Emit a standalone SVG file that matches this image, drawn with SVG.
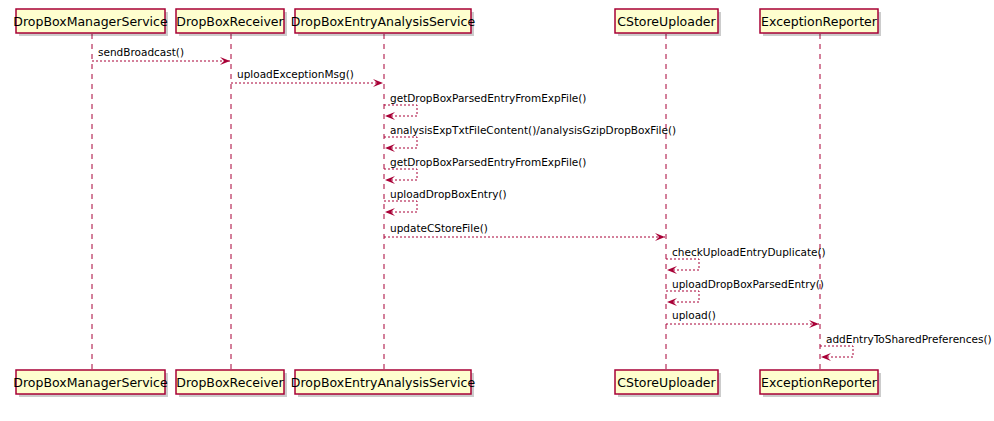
<svg xmlns="http://www.w3.org/2000/svg" width="994" height="421" viewBox="0 0 994 421">
<defs>
<style>
.box{fill:#FEFECE;stroke:#A80036;stroke-width:1.5}
.sh{fill:#000;opacity:0.2}
.pt{font-family:"DejaVu Sans",sans-serif;font-size:12.5px;fill:#000}
.life{stroke:#A80036;stroke-width:1;stroke-dasharray:5,5}
.msg{stroke:#A80036;stroke-width:1;stroke-dasharray:2,2;fill:none}
.mt{font-family:"DejaVu Sans",sans-serif;font-size:10.5px;fill:#000}
</style>
<marker id="ah" viewBox="0 0 10 10" refX="10" refY="5" markerWidth="10" markerHeight="10" orient="auto" markerUnits="userSpaceOnUse">
<path d="M0,1 L10,5 L0,9 L4,5 Z" fill="#A80036"/>
</marker>
</defs>
<rect width="994" height="421" fill="#fff"/>
<g id="lifelines">
<line class="life" x1="92" y1="34" x2="92" y2="370"/>
<line class="life" x1="231" y1="34" x2="231" y2="370"/>
<line class="life" x1="384" y1="34" x2="384" y2="370"/>
<line class="life" x1="666" y1="34" x2="666" y2="370"/>
<line class="life" x1="820" y1="34" x2="820" y2="370"/>
</g>
<g id="p1"><rect class="sh" x="19" y="12" width="149" height="24"/><rect class="box" x="16" y="9" width="149" height="24"/><text class="pt" x="90.5" y="26" text-anchor="middle">DropBoxManagerService</text>
<rect class="sh" x="19" y="373" width="149" height="24"/><rect class="box" x="16" y="370" width="149" height="24"/><text class="pt" x="90.5" y="387" text-anchor="middle">DropBoxManagerService</text></g>
<g id="p2"><rect class="sh" x="179" y="12" width="108" height="24"/><rect class="box" x="176" y="9" width="108" height="24"/><text class="pt" x="230" y="26" text-anchor="middle">DropBoxReceiver</text>
<rect class="sh" x="179" y="373" width="108" height="24"/><rect class="box" x="176" y="370" width="108" height="24"/><text class="pt" x="230" y="387" text-anchor="middle">DropBoxReceiver</text></g>
<g id="p3"><rect class="sh" x="298" y="12" width="176" height="24"/><rect class="box" x="295" y="9" width="176" height="24"/><text class="pt" x="383" y="26" text-anchor="middle">DropBoxEntryAnalysisService</text>
<rect class="sh" x="298" y="373" width="176" height="24"/><rect class="box" x="295" y="370" width="176" height="24"/><text class="pt" x="383" y="387" text-anchor="middle">DropBoxEntryAnalysisService</text></g>
<g id="p4"><rect class="sh" x="618" y="12" width="103" height="24"/><rect class="box" x="615" y="9" width="103" height="24"/><text class="pt" x="666.5" y="26" text-anchor="middle">CStoreUploader</text>
<rect class="sh" x="618" y="373" width="103" height="24"/><rect class="box" x="615" y="370" width="103" height="24"/><text class="pt" x="666.5" y="387" text-anchor="middle">CStoreUploader</text></g>
<g id="p5"><rect class="sh" x="763" y="12" width="118" height="24"/><rect class="box" x="760" y="9" width="118" height="24"/><text class="pt" x="819" y="26" text-anchor="middle">ExceptionReporter</text>
<rect class="sh" x="763" y="373" width="118" height="24"/><rect class="box" x="760" y="370" width="118" height="24"/><text class="pt" x="819" y="387" text-anchor="middle">ExceptionReporter</text></g>
<g id="connectors">
<line class="msg" x1="92" y1="61" x2="230" y2="61" marker-end="url(#ah)"/>
<text class="mt" x="98" y="56">sendBroadcast()</text>
<line class="msg" x1="231" y1="83" x2="383" y2="83" marker-end="url(#ah)"/>
<text class="mt" x="237" y="78">uploadExceptionMsg()</text>
<path class="msg" d="M384,105 H417 V116 H385" marker-end="url(#ah)"/>
<text class="mt" x="390" y="102">getDropBoxParsedEntryFromExpFile()</text>
<path class="msg" d="M384,137 H417 V148 H385" marker-end="url(#ah)"/>
<text class="mt" x="390" y="134">analysisExpTxtFileContent()/analysisGzipDropBoxFile()</text>
<path class="msg" d="M384,169 H417 V180 H385" marker-end="url(#ah)"/>
<text class="mt" x="390" y="166">getDropBoxParsedEntryFromExpFile()</text>
<path class="msg" d="M384,201 H417 V212 H385" marker-end="url(#ah)"/>
<text class="mt" x="390" y="198">uploadDropBoxEntry()</text>
<line class="msg" x1="384" y1="237" x2="665" y2="237" marker-end="url(#ah)"/>
<text class="mt" x="390" y="232">updateCStoreFile()</text>
<path class="msg" d="M666,259 H699 V270 H667" marker-end="url(#ah)"/>
<text class="mt" x="672" y="256">checkUploadEntryDuplicate()</text>
<path class="msg" d="M666,291 H699 V302 H667" marker-end="url(#ah)"/>
<text class="mt" x="672" y="288">uploadDropBoxParsedEntry()</text>
<line class="msg" x1="666" y1="324" x2="819" y2="324" marker-end="url(#ah)"/>
<text class="mt" x="672" y="319">upload()</text>
<path class="msg" d="M820,346 H853 V357 H821" marker-end="url(#ah)"/>
<text class="mt" x="826" y="343">addEntryToSharedPreferences()</text>
</g>
</svg>
